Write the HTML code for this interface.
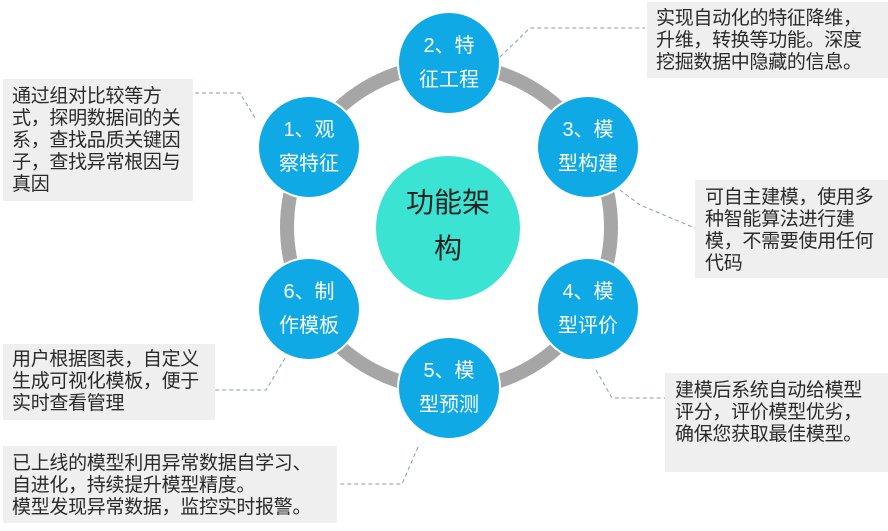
<!DOCTYPE html>
<html><head><meta charset="utf-8"><style>
body{margin:0;width:888px;height:531px;background:#fff;position:relative;overflow:hidden;font-family:"Liberation Sans","Noto Sans CJK SC",sans-serif;}
.b{position:absolute;background:#efeff0;color:#2a2a2a;font-size:19px;line-height:22px;box-sizing:border-box;padding:7px 9px;white-space:nowrap;letter-spacing:-0.3px}
svg{position:absolute;left:0;top:0}
.n{position:absolute;color:#fff;font-size:20px;line-height:34px;text-align:center;width:100px}
</style></head><body>
<svg width="888" height="531">
<circle cx="449" cy="227" r="162" fill="none" stroke="#a6a6a6" stroke-width="14"/>
<g fill="#0fa9e6" stroke="#fff" stroke-width="2">
<circle cx="309" cy="147" r="51"/>
<circle cx="449" cy="63" r="51"/>
<circle cx="588" cy="147" r="51"/>
<circle cx="588" cy="309" r="51"/>
<circle cx="449" cy="388" r="51"/>
<circle cx="309" cy="309" r="51"/>
</g>
<circle cx="448" cy="228" r="72" fill="#3be3d2"/>
<g fill="none" stroke="#8a9bb0" stroke-width="1" stroke-dasharray="4,3">
<polyline points="195,93 240,93 255,118"/>
<polyline points="500,57 530,28 645,28"/>
<polyline points="620,190 640,205 695,228"/>
<polyline points="596,370 612,398 665,398"/>
<polyline points="418,447 402,484 340,484"/>
<polyline points="285,358 266,390 215,390"/>
</g>
</svg>
<div class="n" style="left:259px;top:113px">1、观<br>察特征</div>
<div class="n" style="left:399px;top:29px">2、特<br>征工程</div>
<div class="n" style="left:538px;top:113px">3、模<br>型构建</div>
<div class="n" style="left:538px;top:275px">4、模<br>型评价</div>
<div class="n" style="left:399px;top:354px">5、模<br>型预测</div>
<div class="n" style="left:259px;top:275px">6、制<br>作模板</div>
<div style="position:absolute;left:376px;top:180px;width:144px;text-align:center;font-size:28px;line-height:46px;color:#222">功能架<br>构</div>
<div class="b" style="left:3px;top:79px;width:190px;height:122px">通过组对比较等方<br>式，探明数据间的关<br>系，查找品质关键因<br>子，查找异常根因与<br>真因</div>
<div class="b" style="left:647px;top:2px;width:241px;height:76px;padding-top:6px">实现自动化的特征降维，<br>升维，转换等功能。深度<br>挖掘数据中隐藏的信息。</div>
<div class="b" style="left:695px;top:180px;width:193px;height:98px;padding-left:10px">可自主建模，使用多<br>种智能算法进行建<br>模，不需要使用任何<br>代码</div>
<div class="b" style="left:665px;top:373px;width:223px;height:99px;padding-left:10px">建模后系统自动给模型<br>评分，评价模型优劣，<br>确保您获取最佳模型。</div>
<div class="b" style="left:3px;top:344px;width:212px;height:76px;padding-top:5px">用户根据图表，自定义<br>生成可视化模板，便于<br>实时查看管理</div>
<div class="b" style="left:3px;top:446px;width:334px;height:77px;padding-top:7px">已上线的模型利用异常数据自学习、<br>自进化，持续提升模型精度。<br>模型发现异常数据，监控实时报警。</div>
</body></html>
